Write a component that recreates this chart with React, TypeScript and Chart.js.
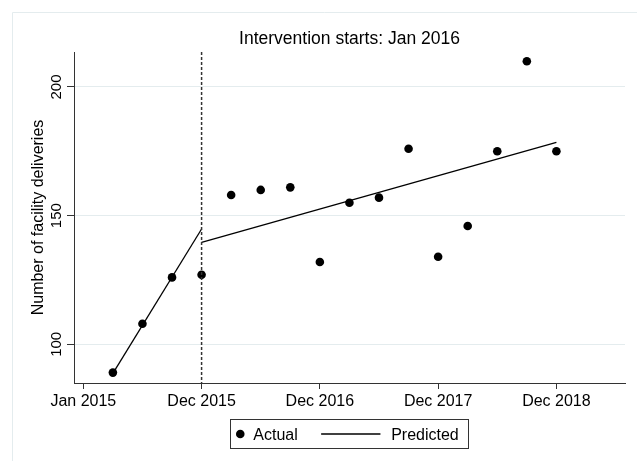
import React, { useEffect, useRef } from "react";
import { Chart, registerables } from "chart.js";

Chart.register(...registerables);

// ---- data ----
const quarters = [1, 2, 3, 4, 5, 6, 7, 8, 9, 10, 11, 12, 13, 14, 15, 16];
const actualDeliveries = [89, 108, 126, 127, 158, 160, 161, 132, 155, 157, 176, 134, 146, 175, 210, 175];
const prePredictedX = [1, 4];
const prePredictedY = [88.7, 144.8];
const postPredictedX = [4, 16];
const postPredictedY = [139.6, 178.5];
const xTickPositions = [0, 4, 8, 12, 16];
const xTickLabels = ["Jan 2015", "Dec 2015", "Dec 2016", "Dec 2017", "Dec 2018"];
const yTickValues = [100, 150, 200];
const interventionQuarter = 4;
const chartTitle = "Intervention starts: Jan 2016";
const yAxisTitle = "Number of facility deliveries";
const legendLabels = ["Actual", "Predicted"];

const FONT = "'Liberation Sans', Arial, Helvetica, sans-serif";
const INK = "#000000";
const AXIS = "#333333";
const FAINT = "#e4ecee";
const PAD_LEFT = 28.6;

const toPoints = (xs: number[], ys: number[]) => xs.map((x, i) => ({ x, y: ys[i] }));

const framePlugin = {
  id: "frame",
  beforeDraw(chart: any) {
    const ctx = chart.ctx;
    ctx.save();
    ctx.fillStyle = "#ffffff";
    ctx.fillRect(0, 0, chart.width, chart.height);
    ctx.strokeStyle = FAINT;
    ctx.lineWidth = 1;
    ctx.beginPath();
    ctx.moveTo(12.5, chart.height);
    ctx.lineTo(12.5, 12.5);
    ctx.lineTo(chart.width, 12.5);
    ctx.stroke();
    ctx.restore();
  },
};

const interventionPlugin = {
  id: "intervention",
  afterDatasetsDraw(chart: any) {
    const { ctx, chartArea } = chart;
    const x = chart.scales.x.getPixelForValue(interventionQuarter);
    ctx.save();
    ctx.strokeStyle = AXIS;
    ctx.lineWidth = 1.5;
    ctx.setLineDash([3, 2]);
    ctx.beginPath();
    ctx.moveTo(x, chartArea.top);
    ctx.lineTo(x, chartArea.bottom);
    ctx.stroke();
    ctx.restore();
  },
};

const titleAndLegendPlugin = {
  id: "titleLegend",
  afterDraw(chart: any) {
    const { ctx, chartArea } = chart;
    const cx = (chartArea.left + chartArea.right) / 2;
    ctx.save();
    // title
    ctx.fillStyle = INK;
    ctx.font = `17.5px ${FONT}`;
    ctx.textAlign = "center";
    ctx.textBaseline = "alphabetic";
    ctx.fillText(chartTitle, cx, chartArea.top - 7.7);

    // legend
    ctx.font = `16px ${FONT}`;
    const w1 = ctx.measureText(legendLabels[0]).width;
    const w2 = ctx.measureText(legendLabels[1]).width;
    const markerOff = 10;
    const text1Off = 23;
    const lineGap = 23.4;
    const lineLen = 59.3;
    const text2Gap = 10.7;
    const endPad = 10;
    const boxW = text1Off + w1 + lineGap + lineLen + text2Gap + w2 + endPad;
    const boxH = 28.7;
    const left = cx - boxW / 2;
    const top = chartArea.bottom + 36.3;
    const midY = top + 14.7;
    ctx.strokeStyle = AXIS;
    ctx.lineWidth = 1;
    ctx.strokeRect(Math.round(left) + 0.5, Math.round(top) + 0.5, Math.round(boxW), Math.round(boxH));
    ctx.beginPath();
    ctx.arc(left + markerOff, midY, 4.3, 0, Math.PI * 2);
    ctx.fill();
    ctx.textAlign = "left";
    ctx.textBaseline = "alphabetic";
    const baseY = top + 20.7;
    ctx.fillText(legendLabels[0], left + text1Off, baseY);
    const lx = left + text1Off + w1 + lineGap;
    ctx.lineWidth = 1.3;
    ctx.strokeStyle = INK;
    ctx.beginPath();
    ctx.moveTo(lx, midY);
    ctx.lineTo(lx + lineLen, midY);
    ctx.stroke();
    ctx.fillText(legendLabels[1], lx + lineLen + text2Gap, baseY);
    ctx.restore();
  },
};

export default function App() {
  const ref = useRef<HTMLCanvasElement | null>(null);
  useEffect(() => {
    if (!ref.current) return;
    const lineStyle = {
      showLine: true,
      borderColor: INK,
      borderWidth: 1.3,
      pointRadius: 0,
      pointHoverRadius: 0,
      fill: false,
    };
    const chart = new Chart(ref.current, {
      type: "scatter",
      data: {
        datasets: [
          {
            label: legendLabels[1],
            data: toPoints(prePredictedX, prePredictedY),
            ...lineStyle,
          },
          {
            label: legendLabels[1] + " (post)",
            data: toPoints(postPredictedX, postPredictedY),
            ...lineStyle,
          },
          {
            label: legendLabels[0],
            data: toPoints(quarters, actualDeliveries),
            showLine: false,
            backgroundColor: INK,
            borderWidth: 0,
            pointRadius: 4.3,
            pointHoverRadius: 4.3,
          },
        ],
      },
      plugins: [framePlugin, interventionPlugin, titleAndLegendPlugin],
      options: {
        animation: false,
        responsive: false,
        devicePixelRatio: 1,
        events: [],
        layout: { padding: { left: PAD_LEFT, top: 52, right: 12, bottom: 0 } },
        plugins: {
          legend: { display: false },
          title: { display: false },
          tooltip: { enabled: false },
        },
        scales: {
          x: {
            type: "linear",
            min: -0.315,
            max: 18.32,
            afterBuildTicks: (scale: any) => {
              scale.ticks = xTickPositions.map((v) => ({ value: v }));
            },
            afterFit: (scale: any) => {
              scale.height = 78;
            },
            grid: {
              drawOnChartArea: false,
              drawTicks: true,
              tickLength: 6,
              tickColor: AXIS,
              tickWidth: 1,
            },
            border: { display: true, color: AXIS, width: 1 },
            ticks: {
              autoSkip: false,
              maxRotation: 0,
              minRotation: 0,
              padding: 3,
              color: INK,
              font: { family: FONT, size: 16 },
              callback: (value: any) => {
                const i = xTickPositions.indexOf(Number(value));
                return i >= 0 ? xTickLabels[i] : "";
              },
            },
          },
          y: {
            type: "linear",
            min: 84.96,
            max: 213.6,
            afterBuildTicks: (scale: any) => {
              scale.ticks = yTickValues.map((v) => ({ value: v }));
            },
            afterFit: (scale: any) => {
              scale.width = 74 - PAD_LEFT;
            },
            grid: {
              drawOnChartArea: true,
              color: FAINT,
              lineWidth: 1,
              drawTicks: true,
              tickLength: 7,
              tickColor: AXIS,
              tickWidth: 1,
            },
            border: { display: true, color: AXIS, width: 1 },
            title: {
              display: true,
              text: yAxisTitle,
              color: INK,
              padding: 0,
              font: { family: FONT, size: 16 },
            },
            ticks: {
              autoSkip: false,
              minRotation: 90,
              maxRotation: 90,
              crossAlign: "center",
              padding: -2,
              color: INK,
              font: { family: FONT, size: 15 },
              callback: (value: any) => String(value),
            },
          },
        },
      } as any,
    });
    return () => chart.destroy();
  }, []);

  return (
    <div style={{ position: "fixed", left: 0, top: 0, width: 637, height: 461, background: "#fff" }}>
      <canvas ref={ref} width={637} height={461} style={{ display: "block", width: 637, height: 461 }} />
    </div>
  );
}
